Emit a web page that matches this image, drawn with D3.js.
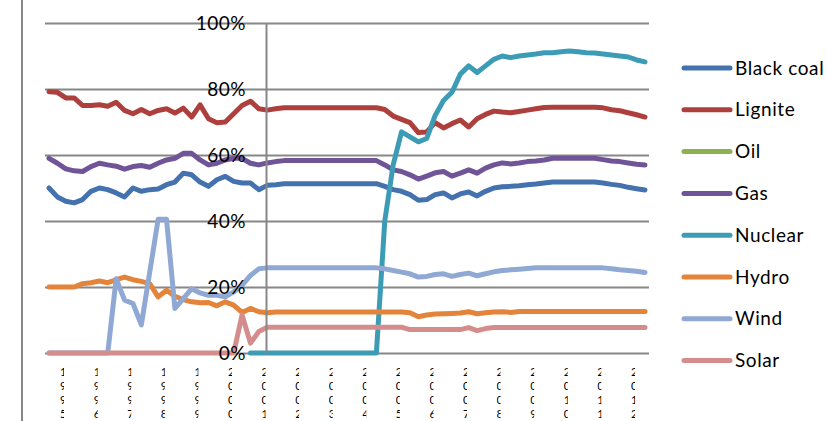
<!DOCTYPE html>
<html>
<head>
<meta charset="utf-8">
<script src="https://cdn.jsdelivr.net/npm/d3@7/dist/d3.min.js"></script>
<style>
  html, body { margin: 0; padding: 0; background: #fff; }
  svg { display: block; }
  text { font-family: Lato, "Open Sans", sans-serif; fill: #000; }
</style>
</head>
<body>
<svg id="chart" width="827" height="421"></svg>
<script>
// Quarterly shares (%) per generation type
const seriesNames = ["Black coal", "Lignite", "Oil", "Gas", "Nuclear", "Hydro", "Wind", "Solar"];
const seriesColors = ["#4372AF", "#AD403D", "#8DB051", "#6F5498", "#3C9CB6", "#E4843A", "#8FA8D4", "#D48D8C"];

const xLabels = ["1995","1996","1997","1998","1999","2000","2001","2002","2003",
                 "2004","2005","2006","2007","2008","2009","2010","2011","2012"];

const yTicks = [0, 0.2, 0.4, 0.6, 0.8, 1.0];

const blackCoal = [50, 47.3, 46, 45.5, 46.5, 49, 50, 49.5, 48.5, 47.3, 50, 49, 49.5, 49.7, 51, 51.8,
  54.5, 54, 51.8, 50.5, 52.5, 53.5, 52, 51.5, 51.5, 49.5, 50.8, 51,
  51.3, 51.3, 51.3, 51.3, 51.3, 51.3, 51.3, 51.3, 51.3, 51.3, 51.3, 51.3,
  50.5, 49.5, 49, 48, 46.3, 46.5, 48, 48.5, 47, 48.2, 48.8, 47.6, 49, 50, 50.4, 50.5,
  50.7, 51, 51.2, 51.5, 51.8, 51.8, 51.8, 51.8, 51.8, 51.8, 51.5, 51.1, 50.8, 50.2, 49.8, 49.4];

const lignite = [79.2, 79, 77.3, 77.3, 75, 75, 75.2, 74.8, 76, 73.5, 72.5, 73.8, 72.5, 73.5, 74, 72.7,
  74.2, 71.5, 75.2, 71, 69.8, 70, 72.5, 75, 76.3, 74, 73.6, 74,
  74.3, 74.3, 74.3, 74.3, 74.3, 74.3, 74.3, 74.3, 74.3, 74.3, 74.3, 74.3,
  73.8, 71.8, 70.8, 69.8, 66.8, 67, 69.8, 68.2, 69.5, 70.6, 68.5, 71, 72.3, 73.3, 73, 72.8,
  73.2, 73.6, 74, 74.4, 74.5, 74.5, 74.5, 74.5, 74.5, 74.5, 74.3, 73.7, 73.4, 72.8, 72.2, 71.5];

const oil = new Array(72).fill(null);

const gas = [59, 57.5, 55.8, 55.2, 55, 56.5, 57.5, 57, 56.6, 55.7, 56.5, 56.8, 56.3, 57.5, 58.5, 59,
  60.5, 60.5, 58.5, 57, 57.5, 58.5, 59, 59, 57.5, 57, 57.6, 58,
  58.3, 58.3, 58.3, 58.3, 58.3, 58.3, 58.3, 58.3, 58.3, 58.3, 58.3, 58.3,
  57, 55.5, 55, 54, 52.7, 53.6, 54.6, 55, 53.6, 54.5, 55.5, 54.5, 56, 57, 57.6, 57.3,
  57.6, 58, 58.2, 58.5, 59, 59, 59, 59, 59, 59, 58.6, 58.2, 58, 57.6, 57.2, 57];

const nuclear = [null, null, null, null, null, null, null, null, null, null, null, null,
  null, null, null, null, null, null, null, null, null, null, null, null,
  0, 0, 0, 0, 0, 0, 0, 0, 0, 0, 0, 0, 0, 0, 0, 0,
  40, 57, 67, 65.5, 64, 65, 72, 76.5, 79, 84.5, 87, 85, 87, 89, 90, 89.5,
  90, 90.3, 90.6, 91, 91, 91.3, 91.5, 91.3, 91, 90.9, 90.6, 90.3, 90, 89.7, 88.8, 88.2];

const hydro = [20, 20, 20, 20, 21, 21.3, 21.8, 21.3, 22.2, 23, 22.2, 21.7, 21, 17, 19, 17.2,
  16.2, 15.5, 15.2, 15.3, 14.3, 15.5, 14.5, 12.3, 13.5, 12.5, 12.2,
  12.4, 12.4, 12.4, 12.4, 12.4, 12.4, 12.4, 12.4, 12.4, 12.4, 12.4, 12.4, 12.4, 12.4, 12.4, 12.4,
  12.2, 11, 11.5, 11.8, 11.9, 12, 12.1, 12.5, 11.9, 12.2, 12.4, 12.5, 12.3, 12.6,
  12.6, 12.6, 12.6, 12.6, 12.6, 12.6, 12.6, 12.6, 12.6, 12.6, 12.6, 12.6, 12.6, 12.6, 12.6];

const wind = [0, 0, 0, 0, 0, 0, 0, 0, 22.5, 16, 15, 8.5, 24.5, 40.5, 40.5, 13.5,
  16.5, 19.5, 18.2, 17.5, 17.5, 17, 18.5, 20.5, 23.5, 25.5,
  25.8, 25.8, 25.8, 25.8, 25.8, 25.8, 25.8, 25.8, 25.8, 25.8, 25.8, 25.8, 25.8, 25.8,
  25.5, 25, 24.5, 24, 23, 23.2, 23.8, 24, 23.2, 23.8, 24.2, 23.4, 24, 24.6, 25, 25.2,
  25.4, 25.6, 25.8, 25.8, 25.8, 25.8, 25.8, 25.8, 25.8, 25.8, 25.8, 25.5, 25.2, 25, 24.8, 24.4];

const solar = [0, 0, 0, 0, 0, 0, 0, 0, 0, 0, 0, 0, 0, 0, 0, 0, 0, 0, 0, 0, 0, 0, 0,
  11.5, 3, 6.5, 7.8,
  7.8, 7.8, 7.8, 7.8, 7.8, 7.8, 7.8, 7.8, 7.8, 7.8, 7.8, 7.8, 7.8, 7.8, 7.8, 7.8,
  7.1, 7.1, 7.1, 7.1, 7.1, 7.1, 7.1, 7.7, 6.8, 7.4,
  7.7, 7.7, 7.7, 7.7, 7.7, 7.7, 7.7, 7.7, 7.7, 7.7, 7.7, 7.7, 7.7, 7.7, 7.7, 7.7, 7.7, 7.7, 7.7];

const seriesValues = [blackCoal, lignite, oil, gas, nuclear, hydro, wind, solar];

const svg = d3.select("#chart");
const N = blackCoal.length;

const x = d3.scaleLinear().domain([0, N - 1]).range([49, 645]);
const y = d3.scaleLinear().domain([0, 1]).range([353, 23]);
const gridLeft = 45, gridRight = 649, axisX = 266;
const gray = "#878787";

// chart frame edge on the left
svg.append("line")
  .attr("x1", 22).attr("x2", 22).attr("y1", 0).attr("y2", 421)
  .attr("stroke", gray).attr("stroke-width", 2);

// horizontal gridlines
const grid = svg.append("g")
  .attr("transform", `translate(${gridLeft},0)`)
  .call(d3.axisRight(y).tickValues(yTicks).tickSize(gridRight - gridLeft).tickFormat(""));
grid.select(".domain").remove();
grid.selectAll(".tick line").attr("stroke", gray).attr("stroke-width", 2);

// value axis in the middle of the plot
const yAxis = svg.append("g")
  .attr("transform", `translate(${axisX},0)`)
  .call(d3.axisLeft(y).tickValues(yTicks).tickSize(0).tickPadding(20).tickFormat(d3.format(".0%")));
yAxis.select(".domain").attr("stroke", gray).attr("stroke-width", 2);
yAxis.selectAll(".tick text")
  .style("font-family", "Lato, sans-serif")
  .style("font-size", "19px")
  .style("letter-spacing", "0.5px")
  .attr("fill", "#000");

// series lines
const line = d3.line()
  .defined(d => d != null)
  .x((d, i) => x(i))
  .y(d => y(d / 100));

const linesG = svg.append("g");
seriesValues.forEach((vals, s) => {
  linesG.append("path")
    .datum(vals)
    .attr("d", line)
    .attr("fill", "none")
    .attr("stroke", seriesColors[s])
    .attr("stroke-width", 5)
    .attr("stroke-linejoin", "round")
    .attr("stroke-linecap", "round");
});

// y tick labels sit above the lines
yAxis.raise();

// category labels: stacked characters in narrow cells below the plot
const defs = svg.append("defs");
const labelsG = svg.append("g");
xLabels.forEach((lab, k) => {
  const lx = x(4 * k + 1.5);
  const id = "lab-clip-" + k;
  defs.append("clipPath").attr("id", id)
    .append("rect")
    .attr("x", lx - 1.5).attr("y", 362).attr("width", 4).attr("height", 58);
  const t = labelsG.append("text")
    .attr("clip-path", `url(#${id})`)
    .style("font-size", "11.5px");
  lab.split("").forEach((ch, j) => {
    t.append("tspan")
      .attr("x", lx - 1.5)
      .attr("y", 376 + j * 14)
      .text(ch);
  });
});

// legend
const legend = svg.append("g");
seriesNames.forEach((name, i) => {
  const ly = 68 + i * 41.8;
  legend.append("line")
    .attr("x1", 684).attr("x2", 730).attr("y1", ly).attr("y2", ly)
    .attr("stroke", seriesColors[i]).attr("stroke-width", 5)
    .attr("stroke-linecap", "round");
  legend.append("text")
    .attr("x", 735).attr("y", ly)
    .attr("dy", "0.35em")
    .style("font-size", "19px")
    .style("letter-spacing", "0.6px")
    .text(name);
});
</script>
</body>
</html>
